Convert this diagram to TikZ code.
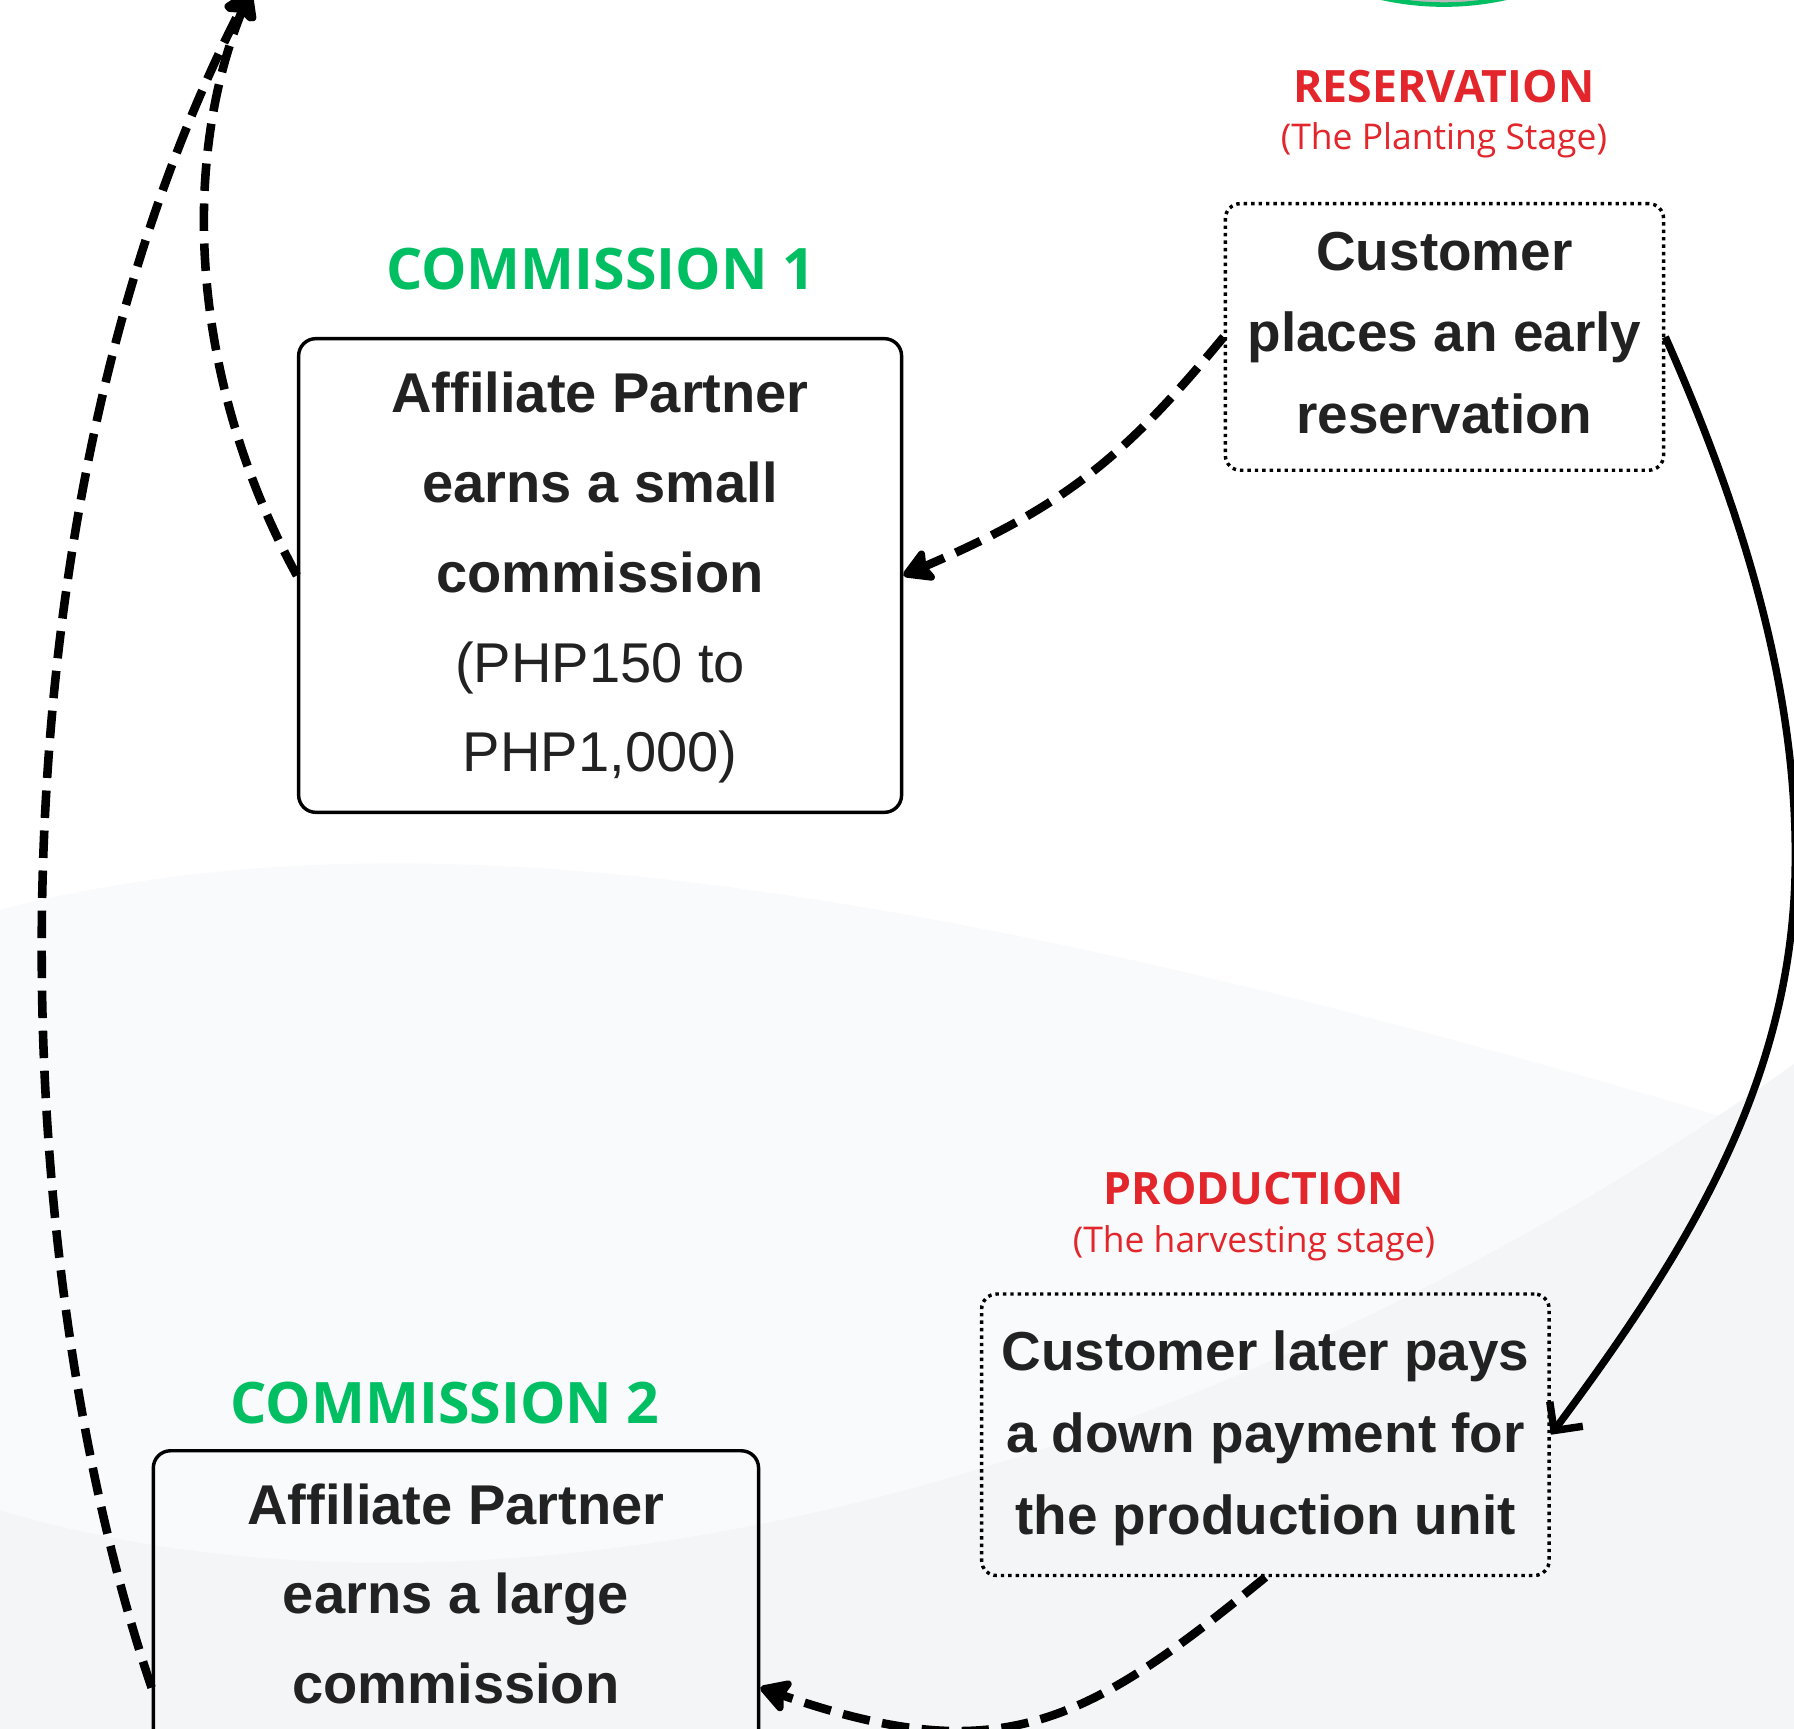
\documentclass[tikz,border=0pt]{standalone}
\usepackage{fontspec}
\setmainfont{Liberation Sans}
\newfontfamily\headfont{Open Sans}
\usetikzlibrary{arrows.meta}
\definecolor{cgreen}{HTML}{00BF63}
\definecolor{cred}{HTML}{E3262B}
\definecolor{ink}{HTML}{222222}
\definecolor{bgA}{HTML}{F9FAFB}
\definecolor{bgB}{HTML}{F4F5F7}
\begin{document}
\begin{tikzpicture}[x=1pt,y=-1pt,
  solidbox/.style={draw=black, line width=3pt, rounded corners=15pt, inner sep=0pt},
  dotbox/.style={draw=black, line width=3pt, dash pattern=on 3pt off 3.5pt, rounded corners=13pt, inner sep=0pt},
  bodytext/.style={align=center, text=ink, font=\fontsize{48}{71.5}\selectfont\bfseries},
  commtext/.style={align=center, text=ink, font=\fontsize{49}{78.5}\selectfont},
  greenhead/.style={text=cgreen, font=\headfont\fontsize{50}{60}\selectfont\bfseries},
  redhead/.style={text=cred, font=\headfont\fontsize{39}{46}\selectfont\bfseries},
  redsub/.style={text=cred, font=\headfont\fontsize{31}{36}\selectfont},
  dasharrow/.style={line width=7.5pt, dash pattern=on 24pt off 11pt, -{Stealth[length=30pt,width=34pt,inset=5pt,round]}},
  solidarrow/.style={line width=6.5pt, -{Straight Barb[length=18pt,width=36pt,line width=6.5pt]}}
]
\useasboundingbox (0,0) rectangle (1568,1511);
\clip (0,0) rectangle (1568,1511);
% background
\fill[white] (0,0) rectangle (1568,1511);
\fill[bgA] (0,795) .. controls (300,720) and (700,730) .. (1568,995) -- (1568,1511) -- (0,1511) -- cycle;
\fill[bgB] (0,1320) .. controls (400,1440) and (1000,1330) .. (1568,930) -- (1568,1511) -- (0,1511) -- cycle;
% green circle at top
\draw[cgreen, line width=4pt, fill=gray!55] (1262,-246) circle (250);

% headings
\node[redhead] (reshead) at (1262,76) {RESERVATION};
\node[redsub] (ressub) at (1262,123) {(The Planting Stage)};
\node[greenhead] (c1head) at (525,235) {COMMISSION 1};
\node[redhead] (prodhead) at (1096,1039) {PRODUCTION};
\node[redsub] (prodsub) at (1096,1087) {(The harvesting stage)};
\node[greenhead] (c2head) at (389,1226) {COMMISSION 2};

% boxes
\node[dotbox, minimum width=383pt, minimum height=233pt] (res) at (1262.5,294.5) {};
\node[bodytext] (restext) at (1262.5,291) {Customer\\places an early\\reservation};
\node[solidbox, minimum width=527pt, minimum height=414pt] (c1) at (524.5,503) {};
\node[commtext] (c1text) at (524.5,505) {\bfseries Affiliate Partner\\\bfseries earns a small\\\bfseries commission\\(PHP150 to\\PHP1,000)};
\node[dotbox, minimum width=496pt, minimum height=246pt] (prod) at (1106,1254) {};
\node[bodytext] (prodtext) at (1106,1257) {Customer later pays\\a down payment for\\the production unit};
\node[solidbox, minimum width=529pt, minimum height=414pt] (c2) at (398.5,1475) {};
\node[commtext, anchor=north] (c2text) at (398.5,1293) {\bfseries Affiliate Partner\\\bfseries earns a large\\\bfseries commission};

\coordinate (top) at (219,-9);

% connectors
\draw[dasharrow] (res.west) .. controls (984,398) and (932,442) .. (c1.east);
\draw[solidarrow] (res.east) .. controls (1520,440) and (1572,600) .. (1569,760) .. controls (1566,950) and (1470,1100) .. (prod.east);
\draw[dasharrow] (c1.west) .. controls (170,340) and (155,150) .. (top);
\draw[dasharrow] (c2.west) .. controls (5,1100) and (-20,460) .. (top);
\draw[dasharrow] (prod.south) .. controls (949,1507) and (875,1548) .. (c2.east);
\end{tikzpicture}
\end{document}
